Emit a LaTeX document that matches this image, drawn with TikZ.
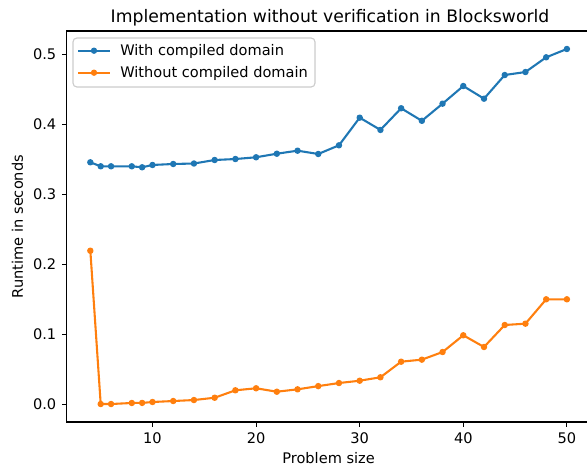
\documentclass[tikz,border=0pt]{standalone}
\usepackage{fontspec}
\setmainfont{DejaVu Sans}

\definecolor{tabblue}{HTML}{1F77B4}
\definecolor{taborange}{HTML}{FF7F0E}
\definecolor{legendgray}{HTML}{CCCCCC}

\begin{document}
\begin{tikzpicture}[x=0.72pt, y=-0.72pt, font=\fontsize{10.5}{12.5}\selectfont,
    series/.style={line width=1.5pt, line join=round, mark=*, mark size=1.8pt,
        mark options={line width=1pt}},
    spine/.style={line width=0.8pt},
    ticklabel/.style={inner sep=0pt}]

    \useasboundingbox (0,0) rectangle (587,470);

    % axes frame (right spine falls outside the page)
    \draw[spine] (587,31) -- (66.5,31) -- (66.5,422) -- (587,422);

    % data coordinates: problem size on x, seconds on y
    \begin{scope}[shift={(48.9,404.3)}, x=7.459pt, y=504pt]

        \foreach \t in {10,20,...,50}
            \draw[spine] (\t,-0.0253) -- ++(0pt,-3.5pt)
                node[below=3.5pt, ticklabel] (xt\t) {\t};

        \foreach \i in {0,...,5}
            \draw[spine] (1.699,\i/10) -- ++(-3.5pt,0pt)
                node[left=3.5pt, ticklabel] (yt\i) {0.\i};

        \draw[series, tabblue] plot coordinates {
            (4,0.3457) (5,0.3400) (6,0.3400) (8,0.3400) (9,0.3386) (10,0.3419)
            (12,0.3433) (14,0.3440) (16,0.3490) (18,0.3504) (20,0.3529)
            (22,0.3580) (24,0.3623) (26,0.3576) (28,0.3700) (30,0.4095)
            (32,0.3920) (34,0.4229) (36,0.4050) (38,0.4295) (40,0.4547)
            (42,0.4366) (44,0.4704) (46,0.4747) (48,0.4957) (50,0.5076)};

        \draw[series, taborange] plot coordinates {
            (4,0.2194) (5,0.0004) (6,0.0004) (8,0.0019) (9,0.0020) (10,0.0033)
            (12,0.0047) (14,0.0061) (16,0.0094) (18,0.0200) (20,0.0229)
            (22,0.0180) (24,0.0214) (26,0.0260) (28,0.0304) (30,0.0337)
            (32,0.0386) (34,0.0609) (36,0.0638) (38,0.0747) (40,0.0986)
            (42,0.0819) (44,0.1133) (46,0.1152) (48,0.1500) (50,0.1500)};

    \end{scope}

    % legend
    \draw[legendgray, line width=0.8pt, rounded corners=2.8pt, fill=white,
        fill opacity=0.8] (73,38) rectangle (315,87);
    \draw[tabblue, line width=1.5pt] (78,50.7) -- (110,50.7);
    \fill[tabblue] (94,50.7) circle (2.3pt);
    \node[anchor=base west, inner sep=0pt] (legwith) at (120,55.6) {With compiled domain};
    \draw[taborange, line width=1.5pt] (78,72.7) -- (110,72.7);
    \fill[taborange] (94,72.7) circle (2.3pt);
    \node[anchor=base west, inner sep=0pt] (legwithout) at (120,77.6) {Without compiled domain};

    % titles
    \node[anchor=base, inner sep=0pt, font=\fontsize{12.4}{14.5}\selectfont] (title)
        at (330,22.7) {Implementation without verification in Blocksworld};
    \node[anchor=base, inner sep=0pt] (xlabel) at (328.6,463) {Problem size};
    \node[anchor=base, inner sep=0pt, rotate=90] (ylabel) at (23,226.5) {Runtime in seconds};

\end{tikzpicture}
\end{document}
